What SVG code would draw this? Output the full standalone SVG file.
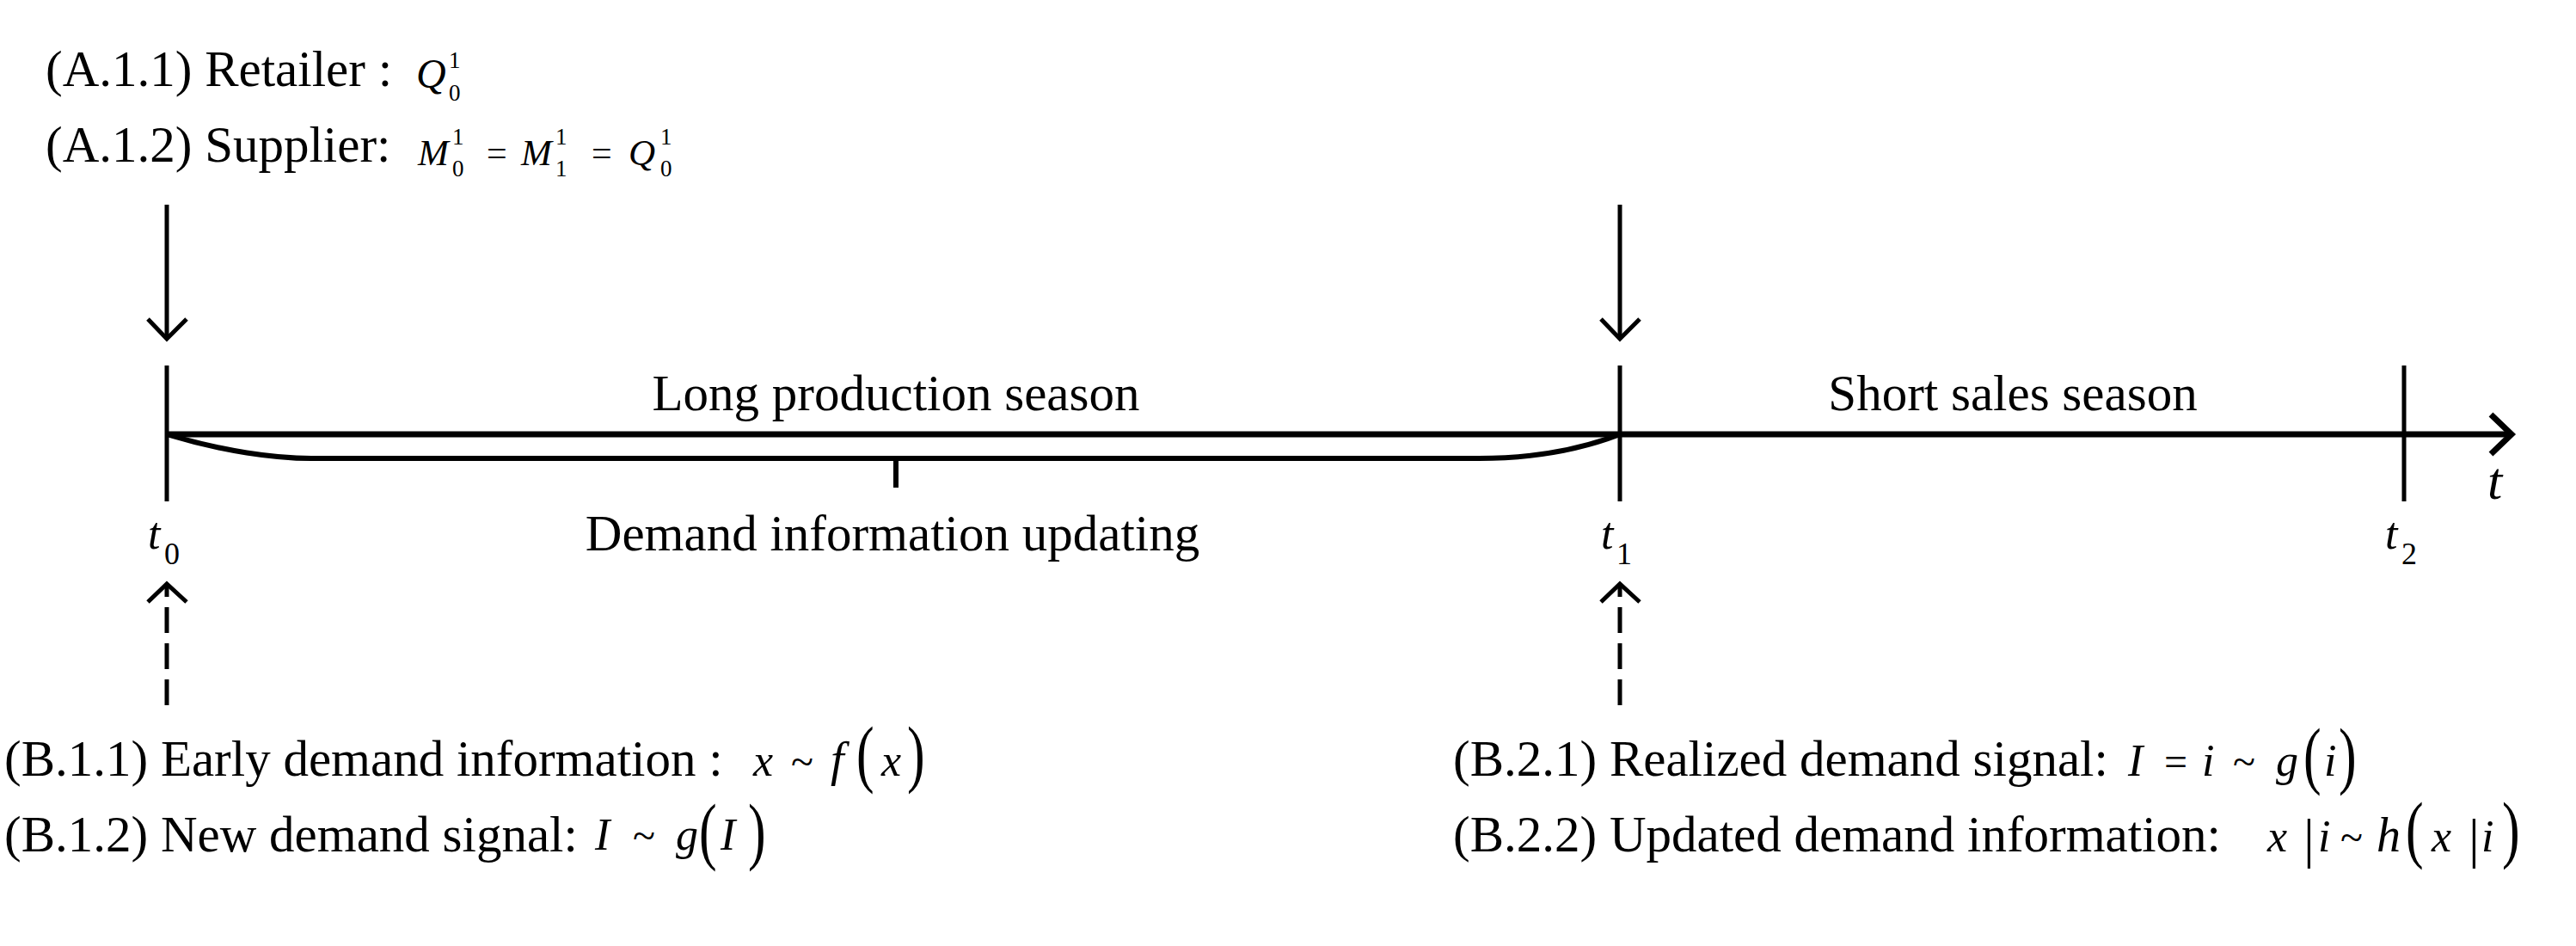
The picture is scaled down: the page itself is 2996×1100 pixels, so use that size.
<svg xmlns="http://www.w3.org/2000/svg" width="2996" height="1100" viewBox="0 0 2996 1100">
<style>
  text { font-family: "Liberation Serif", "Times New Roman", serif; fill: #000; }
  .lbl { font-size: 59px; }
  .mi { font-size: 52px; font-style: italic; }
  .mo { font-size: 48px; }
  .sm { font-size: 27px; }
  .par { font-size: 86px; }
  .bar { font-size: 64px; }
  .tl { font-size: 52px; font-style: italic; }
  .ts { font-size: 36px; }
  .ln { stroke: #000; stroke-width: 5; fill: none; }
  .ax { stroke: #000; stroke-width: 7; fill: none; }
  .br { stroke: #000; stroke-width: 6; fill: none; }
  .dash { stroke: #000; stroke-width: 5; fill: none; stroke-dasharray: 30 12; }
</style>
<rect x="0" y="0" width="2996" height="1100" fill="#fff"/>

<g id="connectors">
  <!-- main time axis -->
  <line class="ax" x1="194" y1="505" x2="2919" y2="505"/>
  <polyline class="ax" points="2897,482 2921,505 2897,528"/>
  <!-- ticks -->
  <line class="ln" x1="194" y1="425" x2="194" y2="583"/>
  <line class="ln" x1="1884" y1="425" x2="1884" y2="583"/>
  <line class="ln" x1="2796" y1="425" x2="2796" y2="583"/>
  <!-- brace under production season -->
  <path class="br" d="M194,505 C260,525 320,533 362,533 L1720,533 C1780,533 1832,525 1884,505"/>
  <line class="br" x1="1042" y1="533" x2="1042" y2="567"/>
  <!-- downward solid arrows -->
  <line class="ln" x1="194" y1="238" x2="194" y2="392"/>
  <polyline class="ln" points="172,371 194,394 217,371"/>
  <line class="ln" x1="1884" y1="238" x2="1884" y2="392"/>
  <polyline class="ln" points="1862,371 1884,394 1907,371"/>
  <!-- upward dashed arrows -->
  <path class="dash" d="M194,820 V679"/>
  <polyline class="ln" points="172,700 194,679 217,700"/>
  <path class="dash" d="M1884,820 V679"/>
  <polyline class="ln" points="1862,700 1884,679 1907,700"/>
</g>

<g id="node-A11">
  <text class="lbl" x="53" y="100">(A.1.1) Retailer :</text>
  <text class="mi" x="484" y="102" style="font-size:48px">Q</text>
  <text class="sm" x="522" y="79">1</text>
  <text class="sm" x="522" y="117">0</text>
</g>

<g id="node-A12">
  <text class="lbl" x="53" y="188">(A.1.2) Supplier:</text>
  <text class="mi" x="486" y="192" style="font-size:43px">M</text>
  <text class="sm" x="526" y="168">1</text>
  <text class="sm" x="526" y="205">0</text>
  <text class="mo" x="566" y="192" style="font-size:42px">=</text>
  <text class="mi" x="606" y="192" style="font-size:43px">M</text>
  <text class="sm" x="646" y="168">1</text>
  <text class="sm" x="646" y="205">1</text>
  <text class="mo" x="688" y="192" style="font-size:42px">=</text>
  <text class="mi" x="731" y="192" style="font-size:43px">Q</text>
  <text class="sm" x="768" y="168">1</text>
  <text class="sm" x="768" y="205">0</text>
</g>

<g id="node-long-season">
  <text class="lbl" x="1042" y="477" text-anchor="middle">Long production season</text>
</g>
<g id="node-demand-updating">
  <text class="lbl" x="1038" y="640" text-anchor="middle">Demand information updating</text>
</g>
<g id="node-short-season">
  <text class="lbl" x="2341" y="477" text-anchor="middle">Short sales season</text>
</g>

<g id="node-t0">
  <text class="tl" x="172" y="638">t</text>
  <text class="ts" x="191" y="656">0</text>
</g>
<g id="node-t1">
  <text class="tl" x="1862" y="638">t</text>
  <text class="ts" x="1880" y="656">1</text>
</g>
<g id="node-t2">
  <text class="tl" x="2774" y="638">t</text>
  <text class="ts" x="2793" y="656">2</text>
</g>
<g id="node-t">
  <text class="tl" x="2893" y="580" style="font-size:62px">t</text>
</g>

<g id="node-B11">
  <text class="lbl" x="5" y="902">(B.1.1) Early demand information :</text>
  <text class="mi" x="876" y="902">x</text>
  <text class="mo" x="920" y="902">~</text>
  <text class="mi" x="966" y="902" style="font-size:56px">f</text>
  <text class="par" transform="translate(996,905) scale(0.72,1)">(</text>
  <text class="mi" x="1025" y="902">x</text>
  <text class="par" transform="translate(1055,905) scale(0.72,1)">)</text>
</g>

<g id="node-B12">
  <text class="lbl" x="5" y="990">(B.1.2) New demand signal:</text>
  <text class="mi" x="692" y="988">I</text>
  <text class="mo" x="736" y="988">~</text>
  <text class="mi" x="786" y="988">g</text>
  <text class="par" transform="translate(813,995) scale(0.72,1)">(</text>
  <text class="mi" x="838" y="988">I</text>
  <text class="par" transform="translate(870,995) scale(0.72,1)">)</text>
</g>

<g id="node-B21">
  <text class="lbl" x="1690" y="902">(B.2.1) Realized demand signal:</text>
  <text class="mi" x="2475" y="902">I</text>
  <text class="mo" x="2517" y="902">=</text>
  <text class="mi" x="2561" y="902">i</text>
  <text class="mo" x="2597" y="902">~</text>
  <text class="mi" x="2647" y="902">g</text>
  <text class="par" transform="translate(2679,907) scale(0.72,1)">(</text>
  <text class="mi" x="2703" y="902">i</text>
  <text class="par" transform="translate(2720,907) scale(0.72,1)">)</text>
</g>

<g id="node-B22">
  <text class="lbl" x="1690" y="990">(B.2.2) Updated demand information:</text>
  <text class="mi" x="2637" y="990">x</text>
  <text class="bar" x="2679" y="996">|</text>
  <text class="mi" x="2696" y="990">i</text>
  <text class="mo" x="2722" y="990">~</text>
  <text class="mi" x="2764" y="990" style="font-size:56px">h</text>
  <text class="par" transform="translate(2798,993) scale(0.72,1)">(</text>
  <text class="mi" x="2828" y="990">x</text>
  <text class="bar" x="2871" y="996">|</text>
  <text class="mi" x="2886" y="990">i</text>
  <text class="par" transform="translate(2910,993) scale(0.72,1)">)</text>
</g>
</svg>
